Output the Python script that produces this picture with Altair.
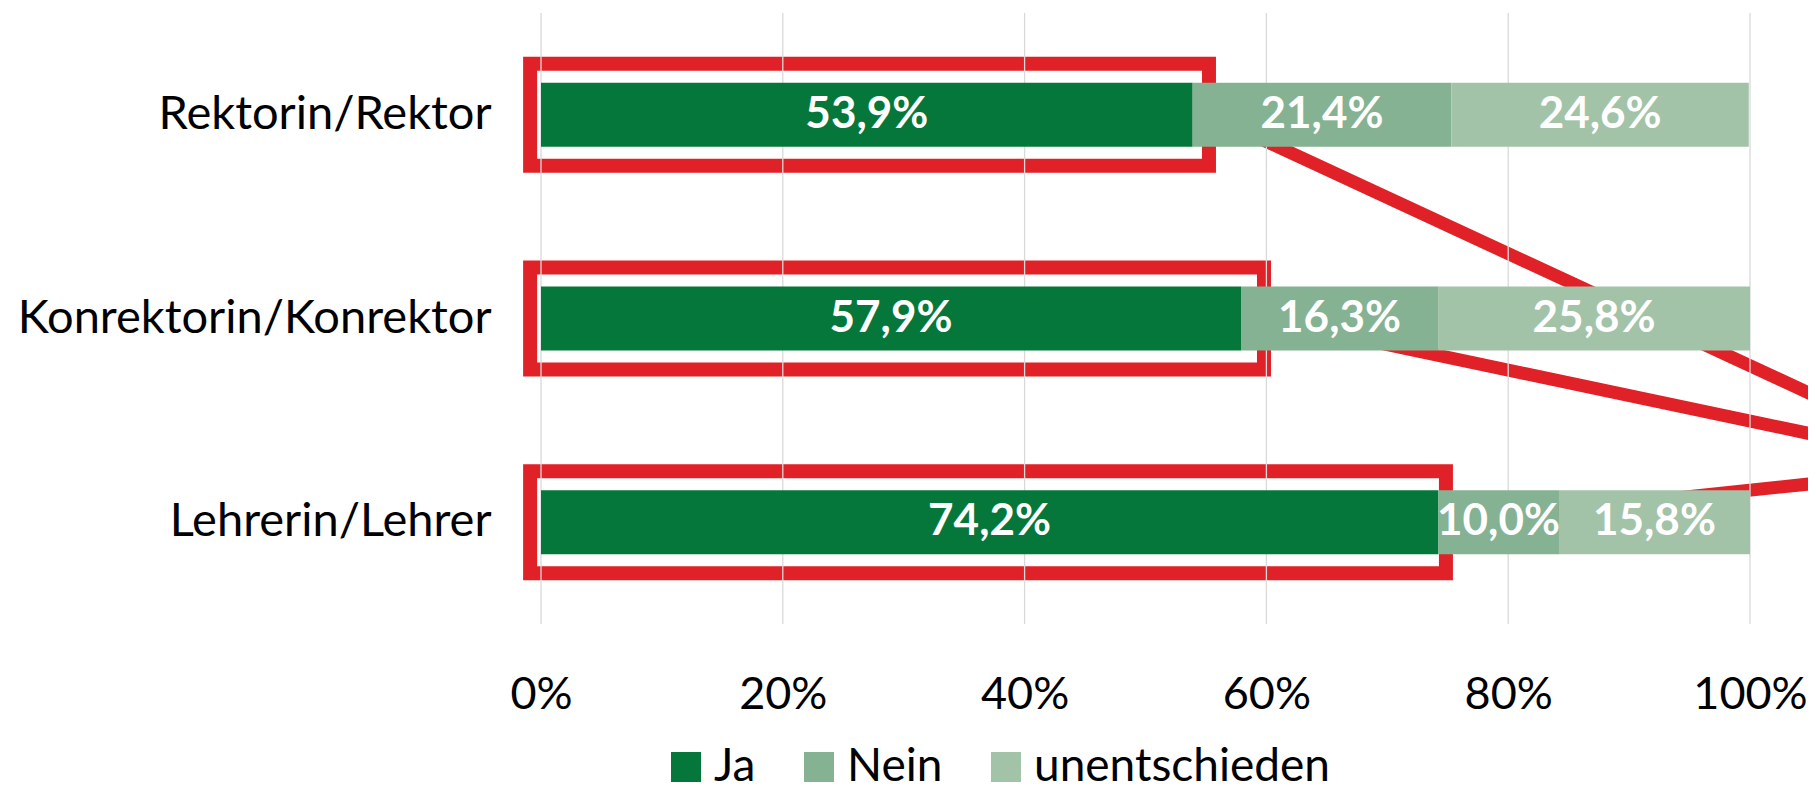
import altair as alt
import pandas as pd

# ---- data ----
categories = ["Rektorin/Rektor", "Konrektorin/Konrektor", "Lehrerin/Lehrer"]
answers = ["Ja", "Nein", "unentschieden"]
ja = [53.9, 57.9, 74.2]
nein = [21.4, 16.3, 10.0]
unentschieden = [24.6, 25.8, 15.8]
colors = ["#06773A", "#84B292", "#A3C3A9"]
tick_values = [0, 20, 40, 60, 80, 100]

# annotation (red highlight boxes and callout lines)
box_left = [-0.9, -0.9, -0.9]
box_right = [55.25, 59.8, 74.85]
line_start_y = [0.5, 1.5, 2.5]      # category index units (band centres)
line_target_x = 118.1
line_target_y = 2.23

RED = "#E02127"
FONT = "Lato"

rows = []
for i, c in enumerate(categories):
    for j, (a, vals) in enumerate(zip(answers, [ja, nein, unentschieden])):
        rows.append({"category": c, "answer": a, "value": vals[i], "order": j})
df = pd.DataFrame(rows)

box_df = pd.DataFrame({"category": categories, "left": box_left, "right": box_right})
line_df = pd.DataFrame({
    "x0": box_right,
    "y0": line_start_y,
    "x1": [line_target_x] * 3,
    "y1": [line_target_y] * 3,
})
grid_df = pd.DataFrame({"v": tick_values})

xscale = alt.Scale(domain=[0, 100], nice=False, zero=False)
yscale = alt.Scale(domain=categories, paddingInner=0.6855, paddingOuter=0.3428)

x_axis = alt.Axis(
    values=tick_values,
    labelExpr="datum.value + '%'",
    grid=False,
    domain=False,
    ticks=False,
    labelFlush=False,
    labelPadding=48,
    labelFontSize=45,
    labelFont=FONT,
    labelColor="black",
    title=None,
)
y_axis = alt.Axis(
    domain=False,
    ticks=False,
    labelPadding=50,
    labelFontSize=47,
    labelFont=FONT,
    labelColor="black",
    labelLimit=700,
    title=None,
)

lines = alt.Chart(line_df).mark_rule(color=RED, strokeWidth=13, strokeCap="butt").encode(
    x=alt.X("x0:Q", scale=xscale, axis=x_axis),
    x2="x1:Q",
    y=alt.Y("y0:Q", scale=alt.Scale(domain=[0, 3], reverse=True, nice=False, zero=False), axis=None),
    y2="y1:Q",
)

boxes = alt.Chart(box_df).mark_bar(
    fillOpacity=0, stroke=RED, strokeWidth=14, size=102, strokeJoin="miter"
).encode(
    x=alt.X("left:Q", scale=xscale, axis=x_axis),
    x2="right:Q",
    y=alt.Y("category:N", sort=categories, scale=yscale, axis=y_axis),
)

grid = alt.Chart(grid_df).mark_rule(color="#D9D9D9", strokeWidth=1.3).encode(
    x=alt.X("v:Q", scale=xscale, axis=x_axis),
)

stacked = alt.Chart(df).transform_stack(
    stack="value",
    groupby=["category"],
    as_=["x0", "x1"],
    sort=[alt.SortField("order", order="ascending")],
).transform_calculate(
    mid="(datum.x0 + datum.x1) / 2",
    label="replace(format(datum.value, '.1f'), '.', ',') + '%'",
)

bars = stacked.mark_bar().encode(
    x=alt.X("x0:Q", scale=xscale, axis=x_axis),
    x2="x1:Q",
    y=alt.Y("category:N", sort=categories, scale=yscale, axis=y_axis),
    color=alt.Color(
        "answer:N",
        scale=alt.Scale(domain=answers, range=colors),
        title=None,
        legend=alt.Legend(
            orient="none",
            legendX=122,
            legendY=731,
            direction="horizontal",
            symbolType="square",
            symbolSize=900,
            symbolStrokeWidth=0,
            labelFontSize=46,
            labelFont=FONT,
            labelColor="black",
            labelLimit=500,
            labelOffset=5,
            columnPadding=40,
            padding=0,
        ),
    ),
)

text = stacked.mark_text(
    color="white", fontWeight="bold", fontSize=44, font=FONT, baseline="middle", align="center"
).encode(
    x=alt.X("mid:Q", scale=xscale, axis=x_axis),
    y=alt.Y("category:N", sort=categories, scale=yscale, axis=y_axis),
    text="label:N",
)

inner = alt.layer(boxes, grid, bars, text)

chart = alt.layer(lines, inner).resolve_scale(y="independent").properties(
    width=1209,
    height=611,
    autosize=alt.AutoSizeParams(type="none"),
    padding={"left": 533, "top": 5, "right": 58, "bottom": 166},
    background="white",
).configure_view(strokeWidth=0)

chart.save("out.html", embed_options={"renderer": "svg", "actions": False})
